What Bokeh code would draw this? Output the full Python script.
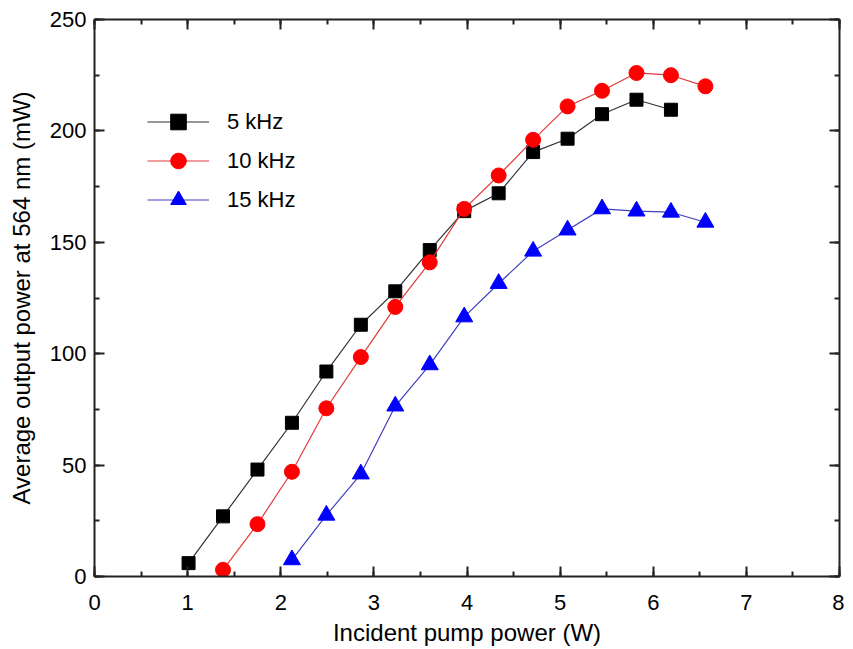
from bokeh.plotting import figure
from bokeh.models import Range1d, LinearAxis, Legend, LegendItem, FixedTicker
from bokeh.embed import file_html
from bokeh.resources import INLINE

# Data
x_5k = [1.01, 1.38, 1.75, 2.12, 2.49, 2.86, 3.23, 3.60, 3.97, 4.34, 4.71, 5.08, 5.45, 5.82, 6.19]
y_5k = [6, 27, 48, 69, 92, 113, 128, 146.5, 164, 172, 190.5, 196.5, 207.5, 214, 209.5]
x_10k = [1.38, 1.75, 2.12, 2.49, 2.86, 3.23, 3.60, 3.97, 4.34, 4.71, 5.08, 5.45, 5.82, 6.19, 6.56]
y_10k = [3, 23.5, 47, 75.5, 98.5, 121, 141, 165, 180, 196, 211, 218, 226, 225, 220]
x_15k = [2.12, 2.49, 2.86, 3.23, 3.60, 3.97, 4.34, 4.71, 5.08, 5.45, 5.82, 6.19, 6.56]
y_15k = [7.5, 27.5, 46, 76.5, 95, 116.5, 131.5, 146, 155.5, 165, 164, 163.5, 159]

labels = ["5 kHz", "10 kHz", "15 kHz"]
x_ticks = [0, 1, 2, 3, 4, 5, 6, 7, 8]
y_ticks = [0, 50, 100, 150, 200, 250]
x_minor = [0.5 * i for i in range(17)]
y_minor = [25 * i for i in range(11)]
x_title = "Incident pump power (W)"
y_title = "Average output power at 564 nm (mW)"

FONT = "Liberation Sans"

p = figure(frame_width=745, frame_height=557, output_backend="svg", toolbar_location=None,
           x_range=Range1d(0, 8), y_range=Range1d(0, 250),
           min_border_left=94, min_border_top=19, min_border_right=5, min_border_bottom=60)
p.xgrid.visible = False
p.ygrid.visible = False
p.outline_line_color = None
p.background_fill_color = "white"
p.border_fill_color = "white"

def style_axis(ax, show_labels=True):
    ax.axis_line_color = "#222222"
    ax.axis_line_width = 2
    ax.major_tick_in = 10
    ax.major_tick_out = 0
    ax.minor_tick_in = 5
    ax.minor_tick_out = 0
    ax.major_tick_line_color = "#222222"
    ax.major_tick_line_width = 2
    ax.minor_tick_line_color = "#222222"
    ax.minor_tick_line_width = 2
    ax.major_label_text_font = FONT
    ax.major_label_text_font_size = "22px"
    ax.major_label_text_color = "black"
    ax.axis_label_text_font = FONT
    ax.axis_label_text_font_style = "normal"
    ax.axis_label_text_color = "black"
    ax.axis_label_text_font_size = "24px"
    if not show_labels:
        ax.major_label_text_font_size = "0px"
        ax.major_label_text_alpha = 0
        ax.major_label_standoff = 0

xa = p.xaxis[0]
ya = p.yaxis[0]
style_axis(xa)
style_axis(ya)
xa.ticker = FixedTicker(ticks=x_ticks, minor_ticks=x_minor)
ya.ticker = FixedTicker(ticks=y_ticks, minor_ticks=y_minor)
xa.axis_label = x_title
ya.axis_label = y_title
xa.major_label_standoff = 18
ya.major_label_standoff = 8
xa.axis_label_standoff = 6
ya.axis_label_standoff = 12

top = LinearAxis(ticker=FixedTicker(ticks=x_ticks, minor_ticks=x_minor))
style_axis(top, show_labels=False)
p.add_layout(top, "above")
right = LinearAxis(ticker=FixedTicker(ticks=y_ticks, minor_ticks=y_minor))
style_axis(right, show_labels=False)
p.add_layout(right, "right")

l1 = p.line(x_5k, y_5k, line_color="#333333", line_width=1.2)
m1 = p.scatter(x_5k, y_5k, marker="square", size=13, fill_color="black", line_color="black")
l2 = p.line(x_10k, y_10k, line_color="#e23a3a", line_width=1.2)
m2 = p.scatter(x_10k, y_10k, marker="circle", size=15, fill_color="#ff0000", line_color="#ff0000")
l3 = p.line(x_15k, y_15k, line_color="#4040c0", line_width=1.2)
m3 = p.scatter(x_15k, y_15k, marker="triangle", size=17, fill_color="#0000ff", line_color="#0000ff")

legend = Legend(items=[LegendItem(label=labels[0], renderers=[l1, m1]),
                       LegendItem(label=labels[1], renderers=[l2, m2]),
                       LegendItem(label=labels[2], renderers=[l3, m3])],
                location=(53, 357), orientation="vertical")
legend.border_line_color = None
legend.background_fill_alpha = 0
legend.padding = 0
legend.margin = 0
legend.spacing = 0
legend.glyph_width = 62
legend.glyph_height = 39
legend.label_height = 39
legend.label_standoff = 18
legend.label_text_font = FONT
legend.label_text_font_size = "22px"
legend.label_text_color = "black"
p.add_layout(legend, "center")

open("out.html", "w").write(file_html(p, INLINE))
